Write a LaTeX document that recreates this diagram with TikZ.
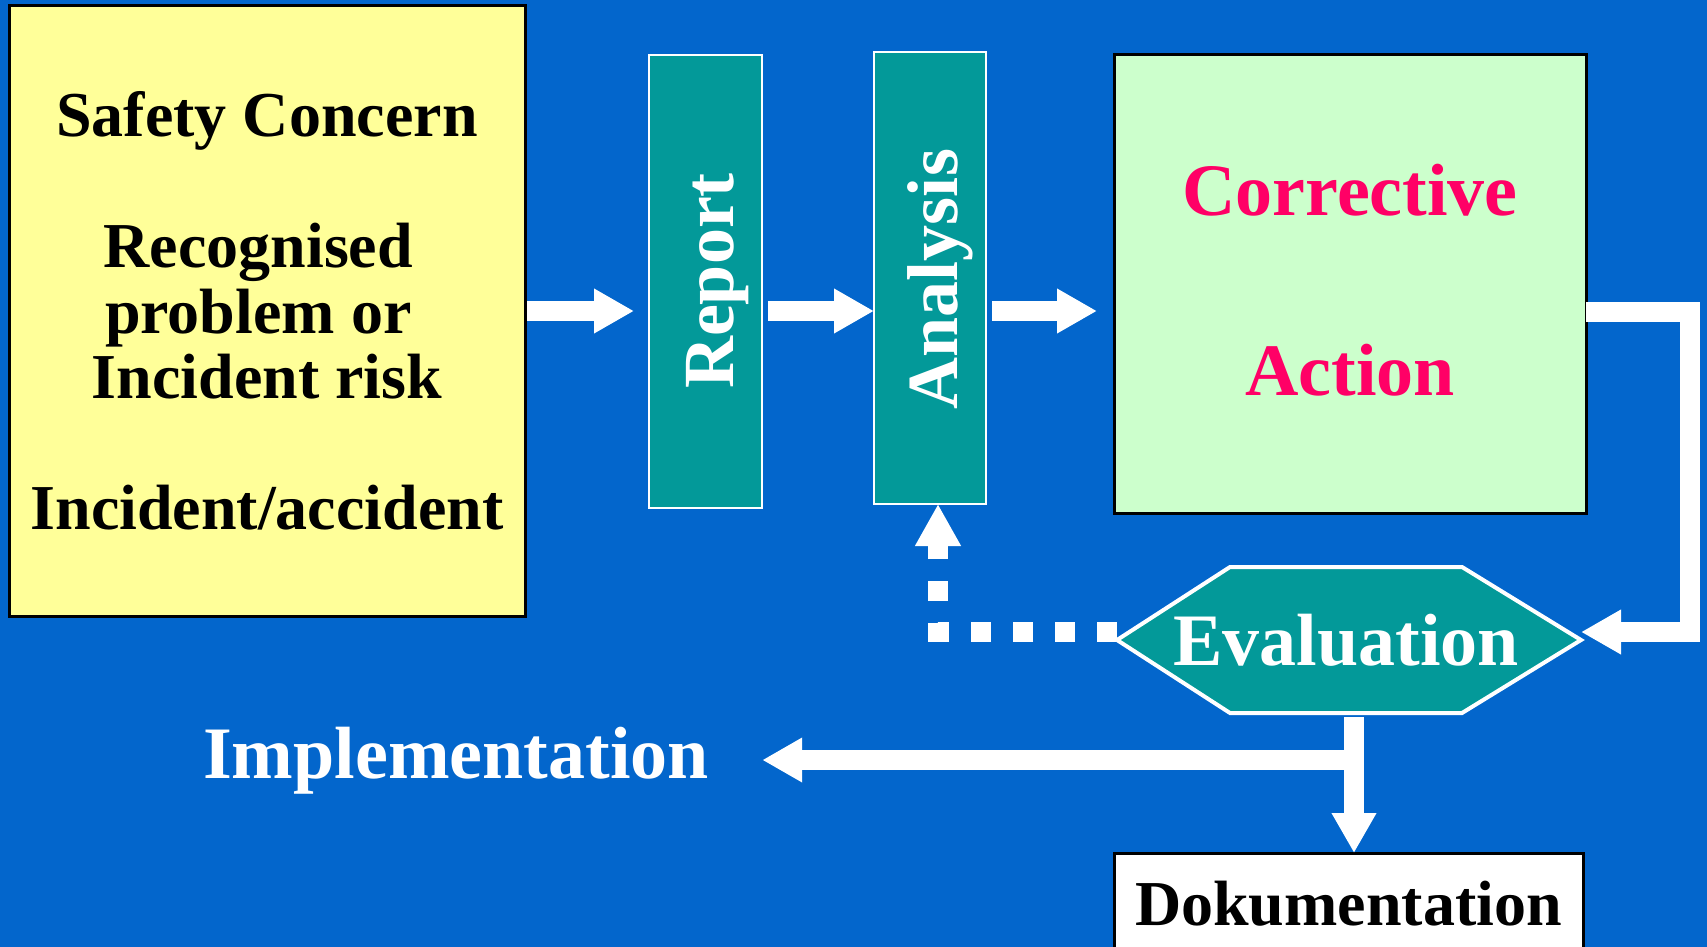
\documentclass[tikz,border=0pt]{standalone}
\usepackage{fontspec}
\setmainfont{Liberation Serif}
\usetikzlibrary{arrows.meta,calc}
\definecolor{bgblue}{HTML}{0366CC}
\definecolor{tealc}{HTML}{039999}
\definecolor{yellowc}{HTML}{FFFF99}
\definecolor{greenc}{HTML}{CCFFCC}
\definecolor{magc}{HTML}{FF0066}
\begin{document}
\begin{tikzpicture}[x=0.5pt,y=-0.5pt,
  box/.style={draw=black, line width=1.5pt, inner sep=0pt, outer sep=0pt},
  tbox/.style={draw=white, fill=tealc, line width=1.2pt, inner sep=0pt, outer sep=0pt},
  vlabel/.style={text=white, rotate=90, inner sep=0pt, font=\bfseries\fontsize{36}{40}\selectfont},
  bigfont/.style={font=\bfseries\fontsize{37}{44}\selectfont},
  fat/.style={draw=white, line width=10pt, -{Triangle[length=20pt,width=21pt]}},
  dotted line/.style={draw=white, line width=10pt, dash pattern=on 10pt off 11pt, -{Triangle[length=21pt,width=21.5pt]}}
]
\useasboundingbox (0,0) rectangle (1707,947);
\fill[bgblue] (0,0) rectangle (1707,947);
\clip (0,0) rectangle (1707,947);

% boxes
\node[box, fill=yellowc, minimum width=258pt, minimum height=305pt, align=center,
      font=\bfseries\fontsize{32}{32.75}\selectfont] (concern) at (267,311)
  {Safety Concern\\[32.75pt]Recognised\rule{8.7pt}{0pt}\\problem or\rule{8.7pt}{0pt}\\Incident risk\\[32.75pt]Incident/accident};

\node[tbox, minimum width=56.5pt, minimum height=226.5pt] (report) at (705.5,281.5) {};
\node[vlabel] (reportT) at (717.5,281) {Report};

\node[tbox, minimum width=56pt, minimum height=226pt] (analysis) at (930,278) {};
\node[vlabel] (analysisT) at (940.5,279) {Analysis};

\node[box, fill=greenc, minimum width=236pt, minimum height=229pt] (corrective) at (1350,284) {};
\node[bigfont, text=magc, align=center] (correctiveT) at (1350,280) {Corrective\\[46pt]Action};

% evaluation hexagon
\draw[fill=tealc, draw=white, line width=2pt]
  (1117,640) -- (1230,567) -- (1462,567) -- (1581,640) -- (1462,713) -- (1230,713) -- cycle;
\node[bigfont, text=white] (evaluation) at (1346,640) {Evaluation};
\coordinate (evalL) at (1117,632);
\coordinate (evalR) at (1581,632);
\coordinate (evalB) at (1354,713);

\node[box, fill=white, minimum width=234.5pt, minimum height=51pt,
      font=\bfseries\fontsize{32}{36}\selectfont] (doku) at (1348.5,904) {Dokumentation};

\node[bigfont, text=white, anchor=base, inner sep=0pt] (impl) at (456,778) {Implementation};

% connectors
\draw[fat, shorten <=1pt, shorten >=7.5pt] (concern.east) -- (report.west |- concern.east);
\draw[fat, shorten <=3pt] (report.east |- concern.east) -- (analysis.west |- concern.east);
\draw[fat, shorten <=3pt, shorten >=8.5pt] (analysis.east |- concern.east) -- (corrective.west |- concern.east);

\coordinate (loopA) at (1690,312);
\coordinate (loopB) at (1690,632);
\draw[fat, line join=miter] (corrective.east |- loopA) -- (loopA) -- (loopB) -- (evalR);

\coordinate (dotC) at (938,632);
\draw[dotted line] (evalL) -- (dotC) -- (dotC |- analysis.south);

\draw[fat, shorten <=2pt] (evalB) -- (evalB |- doku.north);
\coordinate (branch) at (1354,760);
\draw[fat, shorten >=26.5pt] (branch) -- (impl.east |- branch);
\end{tikzpicture}
\end{document}
